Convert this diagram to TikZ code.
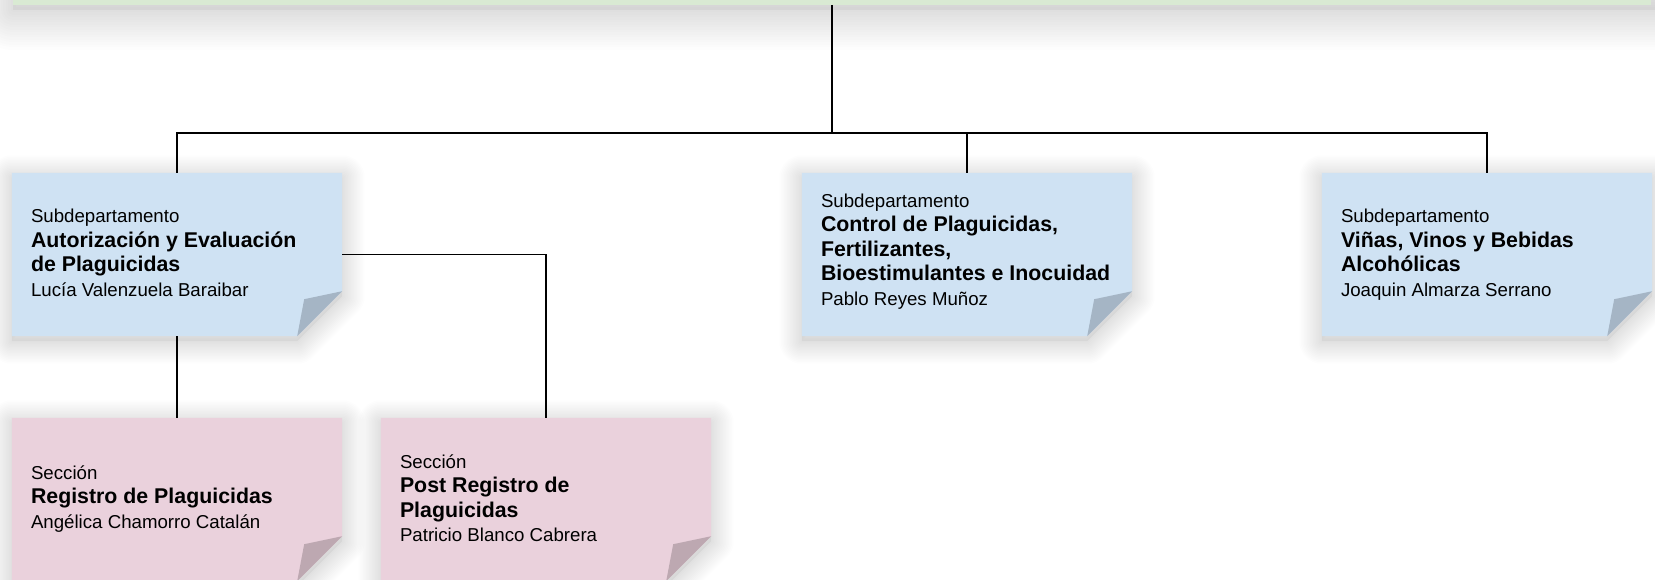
\documentclass[tikz,border=0pt]{standalone}
\usepackage{fontspec}
\setmainfont{Liberation Sans}
\definecolor{notebl}{HTML}{CFE2F3}
\definecolor{foldbl}{HTML}{A5B5C5}
\definecolor{notepk}{HTML}{EAD1DC}
\definecolor{foldpk}{HTML}{BDA8B1}
\definecolor{bargreen}{HTML}{D9EAD3}
\newcommand\regf{\fontsize{18.67}{24.4}\selectfont\mdseries}
\newcommand\bldf{\fontsize{21.33}{24.4}\selectfont\bfseries}
\tikzset{
  notenode/.style={draw=none, inner sep=0pt, minimum width=330pt, minimum height=163pt},
  barnode/.style={draw=none, fill=bargreen, inner sep=0pt, minimum width=1638pt, minimum height=20pt},
  txt/.style={anchor=base west, align=left, inner sep=0pt, text=black, font=\regf},
  conn/.style={draw=black, line width=1.9pt},
  shadowlayer/.style={draw=black, draw opacity=0.009, line join=round},
  shadowbase/.style={fill=black, fill opacity=0.04}
}
\newcommand\notebox[4]{%
  \node[notenode] (#1) at (#2) {};
  \path[shadowbase]
      ([yshift=-5pt]#1.north west) -- ([yshift=-5pt]#1.north east)
      -- ([yshift=40pt]#1.south east) -- ([xshift=-45pt,yshift=-5pt]#1.south east)
      -- ([yshift=-5pt]#1.south west) -- cycle;
  \foreach \w in {3,6,...,45}{
    \path[shadowlayer, line width=\w pt]
      ([yshift=-5pt]#1.north west) -- ([yshift=-5pt]#1.north east)
      -- ([yshift=40pt]#1.south east) -- ([xshift=-45pt,yshift=-5pt]#1.south east)
      -- ([yshift=-5pt]#1.south west) -- cycle;
  }
  \fill[#3] (#1.north west) -- (#1.north east) -- ([yshift=45pt]#1.south east)
    -- ([xshift=-45pt]#1.south east) -- (#1.south west) -- cycle;
  \fill[#4] ([xshift=-45pt]#1.south east) -- ([xshift=-38pt,yshift=37pt]#1.south east)
    -- ([yshift=45pt]#1.south east) -- cycle;
}
\begin{document}
\begin{tikzpicture}[x=1pt, y=-1pt]
\useasboundingbox (0,0) rectangle (1655,579);
\fill[white] (0,0) rectangle (1655,579);
\clip (0,0) rectangle (1655,579);
% top bar shadow
\path[shadowbase] (13,-20) rectangle (1700,9.7);
\foreach \w in {5,10,...,80}{
  \path[shadowlayer, line width=\w pt] (13,-20) rectangle (1700,9.7);
}
\node[barnode] (bar) at (832,-5.3) {};
% notes
\notebox{A}{177,254.5}{notebl}{foldbl}
\notebox{C}{967,254.5}{notebl}{foldbl}
\notebox{V}{1487,254.5}{notebl}{foldbl}
\notebox{R}{177,499.5}{notepk}{foldpk}
\notebox{P}{546,499.5}{notepk}{foldpk}
% texts (anchor = baseline of last line)
\node[txt] (tA) at ([xshift=19pt,yshift=-41.5pt]A.west)
  {{\regf Subdepartamento}\\{\bldf Autorización y Evaluación}\\{\bldf de Plaguicidas}\\{\regf Lucía Valenzuela Baraibar}};
\node[txt] (tC) at ([xshift=19pt,yshift=-50.5pt]C.west)
  {{\regf Subdepartamento}\\{\bldf Control de Plaguicidas,}\\{\bldf Fertilizantes,}\\{\bldf Bioestimulantes e Inocuidad}\\{\regf Pablo Reyes Muñoz}};
\node[txt] (tV) at ([xshift=19pt,yshift=-41.5pt]V.west)
  {{\regf Subdepartamento}\\{\bldf Viñas, Vinos y Bebidas}\\{\bldf Alcohólicas}\\{\regf Joaquin Almarza Serrano}};
\node[txt] (tR) at ([xshift=19pt,yshift=-28.5pt]R.west)
  {{\regf Sección}\\{\bldf Registro de Plaguicidas}\\{\regf Angélica Chamorro Catalán}};
\node[txt] (tP) at ([xshift=19pt,yshift=-42pt]P.west)
  {{\regf Sección}\\{\bldf Post Registro de}\\{\bldf Plaguicidas}\\{\regf Patricio Blanco Cabrera}};
% connectors
\coordinate (hub) at (832,133);
\draw[conn] (bar.south) -- (hub);
\draw[conn] (A.north) |- (hub);
\draw[conn] (C.north) |- (hub);
\draw[conn] (V.north) |- (hub);
\draw[conn] (A.south) -- (R.north);
\draw[conn] (A.east) -| (P.north);
\end{tikzpicture}
\end{document}
